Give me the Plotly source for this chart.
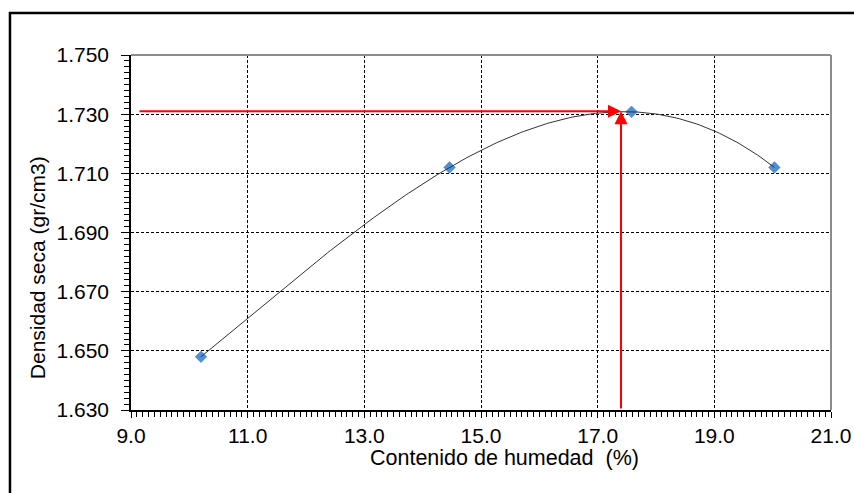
import numpy as np
import plotly.graph_objects as go

# Data
humedad = [10.2, 14.46, 17.58, 20.03]        # Contenido de humedad (%)
densidad = [1.648, 1.712, 1.7308, 1.712]      # Densidad seca (gr/cm3)
w_opt = 17.4                                   # humedad optima (%)
d_max = 1.731                                  # densidad seca maxima
x_start = 9.12

x_ticks = [9.0, 11.0, 13.0, 15.0, 17.0, 19.0, 21.0]
y_ticks = [1.630, 1.650, 1.670, 1.690, 1.710, 1.730, 1.750]

# Polynomial trend line (order 3) computed from the points
coef = np.polyfit(humedad, densidad, 3)
xs = np.linspace(min(humedad), max(humedad), 200)
ys = np.polyval(coef, xs)

FONT = "Liberation Sans, Arial, sans-serif"

fig = go.Figure()
fig.add_trace(go.Scatter(
    x=humedad, y=densidad, mode="markers",
    marker=dict(symbol="diamond", size=9, color="#4F8FD4",
                line=dict(color="#3E7CC0", width=0.5)),
    showlegend=False, hoverinfo="skip"))
fig.add_trace(go.Scatter(
    x=xs, y=ys, mode="lines",
    line=dict(color="#333333", width=1), showlegend=False, hoverinfo="skip"))

# Red arrows
fig.add_annotation(x=w_opt, y=d_max, ax=x_start, ay=d_max,
                   xref="x", yref="y", axref="x", ayref="y", text="",
                   showarrow=True, arrowhead=2, arrowsize=1.3, arrowwidth=2,
                   arrowcolor="#FF0000")
fig.add_annotation(x=w_opt, y=d_max, ax=w_opt, ay=y_ticks[0],
                   xref="x", yref="y", axref="x", ayref="y", text="",
                   showarrow=True, arrowhead=2, arrowsize=1.3, arrowwidth=2,
                   arrowcolor="#FF0000")

# Axis titles
fig.add_annotation(text="Contenido de humedad  (%)", xref="paper", yref="paper",
                   x=0.533, y=-0.135, showarrow=False, xanchor="center", yanchor="middle",
                   font=dict(family=FONT, size=21.5, color="black"))
fig.add_annotation(text="Densidad seca (gr/cm3)", xref="paper", yref="paper",
                   x=-0.134, y=0.40, showarrow=False, textangle=-90,
                   xanchor="center", yanchor="middle",
                   font=dict(family=FONT, size=21, color="black"))

# Plot-area border (top and right in gray)
fig.add_shape(type="line", xref="paper", yref="paper", x0=0, x1=1, y0=1, y1=1,
              line=dict(color="#8C8C8C", width=2))
fig.add_shape(type="line", xref="paper", yref="paper", x0=1, x1=1, y0=0, y1=1,
              line=dict(color="#8C8C8C", width=2))
# Outer frame
fig.add_shape(type="rect", xref="paper", yref="paper",
              x0=-0.1729, x1=1.06, y0=-0.26, y1=1.1183,
              line=dict(color="black", width=2.5))

fig.update_xaxes(
    range=[9, 21], tickmode="array", tickvals=x_ticks,
    ticktext=[f"{v:.1f}" for v in x_ticks],
    showline=True, linecolor="black", linewidth=1.5,
    ticks="outside", ticklen=6, tickwidth=1, tickcolor="black",
    ticklabelstandoff=0, automargin=False,
    showgrid=True, gridcolor="black", gridwidth=1, griddash="3px,2px",
    minor=dict(ticks="outside", dtick=0.1, tick0=9, ticklen=5, tickcolor="black",
               showgrid=False),
    zeroline=False, tickfont=dict(family=FONT, size=21, color="black"))
fig.update_yaxes(
    range=[1.63, 1.75], tickmode="array", tickvals=y_ticks,
    ticktext=[f"{v:.3f}" for v in y_ticks],
    showline=True, linecolor="black", linewidth=1.5,
    ticks="outside", ticklen=8, tickwidth=1, tickcolor="black",
    ticklabelstandoff=8, automargin=False,
    showgrid=True, gridcolor="black", gridwidth=1, griddash="3px,2px",
    minor=dict(ticks="outside", dtick=0.002, tick0=1.63, ticklen=5, tickcolor="black",
               showgrid=False),
    zeroline=False, tickfont=dict(family=FONT, size=21, color="black"))

fig.update_layout(
    width=854, height=493,
    margin=dict(l=131, r=23, t=55, b=83),
    paper_bgcolor="white", plot_bgcolor="white",
    font=dict(family=FONT, color="black"),
)

fig.write_html("out.html")
